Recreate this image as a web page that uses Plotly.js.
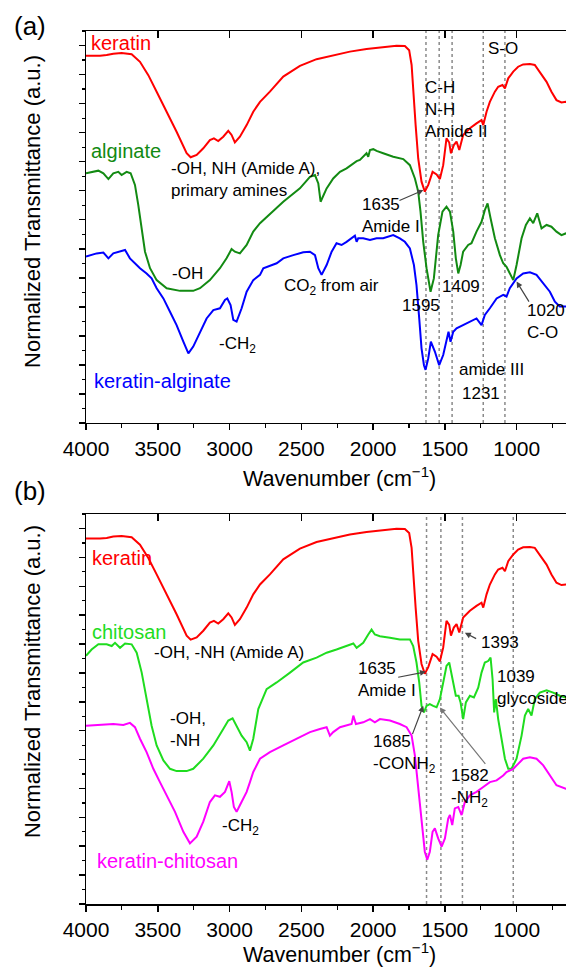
<!DOCTYPE html>
<html>
<head>
<meta charset="utf-8">
<script src="https://cdn.plot.ly/plotly-3.0.1.min.js"></script>
<style>
  html, body { margin: 0; padding: 0; background: #fff; overflow: hidden; }
  #chart { width: 594px; height: 967px; }
</style>
</head>
<body>
<div id="chart"></div>
<script>
// FTIR spectra, wavenumber (cm-1) vs normalized transmittance (a.u., stacked)

// keratin (shown in both panels)
const keratinWn = [4000,3949,3902,3856,3810,3752,3705,3682,3624,3566,3508,3438,3369,3299,3271,3229,3183,3137,3109,3079,3044,3009,2986,2963,2928,2881,2835,2788,2719,2626,2510,2394,2278,2162,2046,1930,1837,1779,1749,1732,1721,1704,1686,1663,1640,1616,1586,1558,1535,1512,1489,1470,1458,1438,1419,1400,1373,1326,1280,1245,1233,1210,1187,1152,1129,1099,1082,1059,1024,990,955,908,874,839,792,758,723,688,658,600,500,400];
const keratinT = [12.65,12.64,12.65,12.67,12.72,12.74,12.72,12.70,12.44,11.98,11.41,10.72,10.03,9.29,9.15,9.23,9.46,9.74,9.80,9.71,9.86,10.06,9.92,9.66,9.86,10.26,10.72,11.06,11.41,11.93,12.30,12.53,12.67,12.79,12.88,12.95,12.99,12.98,12.84,12.33,11.41,10.26,9.11,8.31,7.97,8.20,8.65,8.56,8.40,8.88,9.80,9.66,9.29,9.57,9.69,9.40,9.92,10.15,10.32,10.43,10.26,10.72,11.06,11.41,11.58,11.64,11.52,11.87,12.10,12.27,12.35,12.36,12.33,12.10,11.75,11.41,11.12,11.04,11.06,11.0,10.9,10.8];

// alginate
const alginateWn = [4000,3949,3914,3879,3844,3810,3775,3752,3717,3689,3659,3636,3612,3589,3554,3508,3438,3345,3253,3206,3137,3067,3021,2986,2963,2928,2881,2835,2788,2742,2626,2510,2440,2405,2382,2366,2347,2324,2278,2231,2185,2138,2115,2092,2046,2034,2022,1999,1976,1930,1860,1790,1744,1709,1686,1670,1651,1628,1600,1577,1547,1517,1489,1465,1442,1424,1407,1391,1373,1338,1315,1280,1245,1222,1203,1182,1152,1117,1094,1071,1048,1024,1001,966,936,908,885,857,827,792,758,723,688,658,600,500,400];
const alginateT = [8.60,8.65,8.69,8.60,8.40,8.60,8.65,8.54,8.65,8.60,8.20,7.51,6.59,5.90,5.33,4.92,4.64,4.55,4.55,4.64,4.92,5.33,5.67,5.99,5.90,5.84,6.13,6.59,6.88,7.10,7.62,8.08,8.48,8.54,8.25,7.62,7.85,8.08,8.42,8.65,8.77,8.94,9.02,9.06,9.29,9.17,9.40,9.43,9.37,9.29,9.17,9.09,8.88,8.42,7.97,7.28,6.24,5.33,4.52,4.98,6.47,7.28,7.45,7.28,6.59,5.67,5.15,5.44,5.90,6.13,6.19,6.59,6.93,7.33,7.56,7.05,6.36,5.78,5.50,5.38,5.15,4.92,5.44,6.36,6.82,7.05,6.88,7.22,6.70,6.82,6.76,6.59,6.47,6.53,6.5,6.45,6.4];

// keratin-alginate
const kerAlgWn = [4000,3961,3926,3879,3844,3810,3763,3728,3694,3659,3624,3578,3543,3508,3461,3415,3369,3322,3287,3253,3206,3160,3113,3067,3032,3016,2993,2974,2951,2916,2881,2835,2788,2765,2672,2626,2556,2487,2440,2405,2382,2359,2324,2289,2255,2220,2185,2150,2127,2115,2104,2069,2022,1976,1930,1860,1814,1779,1744,1716,1698,1679,1663,1646,1635,1616,1598,1570,1540,1512,1489,1475,1461,1442,1419,1373,1326,1280,1245,1222,1187,1140,1094,1071,1048,1001,955,908,862,815,769,734,700,658,600,500,400];
const kerAlgT = [5.73,5.78,5.84,5.87,5.67,5.84,5.90,5.96,5.67,5.50,5.33,5.15,4.98,4.64,4.29,3.83,3.37,2.80,2.40,2.63,3.14,3.60,3.89,3.95,4.24,4.29,4.06,3.55,3.49,3.95,4.52,4.92,5.10,5.33,5.50,5.67,5.78,5.88,5.90,5.78,5.33,5.10,5.44,5.90,6.19,6.13,6.24,6.36,6.45,6.24,6.36,6.36,6.30,6.36,6.36,6.47,6.36,6.24,6.01,5.44,4.75,3.60,2.57,1.99,1.83,2.23,2.80,2.46,1.99,2.34,2.91,3.14,2.80,3.14,3.26,3.37,3.49,3.60,3.37,3.72,3.95,4.29,4.41,4.35,4.64,4.98,5.15,5.19,5.10,4.81,4.52,4.18,4.01,4.01,4.0,3.95,3.9];

// chitosan
const chitosanWn = [4000,3961,3914,3856,3821,3798,3763,3728,3682,3647,3612,3578,3543,3508,3461,3415,3369,3299,3253,3183,3113,3044,3009,2979,2951,2916,2881,2858,2835,2800,2742,2672,2579,2487,2394,2324,2255,2185,2138,2115,2069,2034,2011,1988,1953,1883,1814,1744,1721,1698,1679,1663,1646,1628,1605,1582,1558,1535,1512,1489,1470,1447,1424,1405,1391,1373,1354,1326,1298,1268,1245,1222,1199,1182,1168,1157,1145,1129,1106,1082,1059,1036,1001,966,943,920,897,874,839,792,746,700,658,600,500,400];
const chitosanT = [8.59,8.81,8.99,8.99,8.93,9.04,8.87,9.02,8.99,8.70,8.01,7.09,6.17,5.49,4.97,4.68,4.60,4.60,4.68,5.03,5.49,6.06,6.35,6.43,6.17,5.83,5.60,5.31,5.72,6.75,7.44,7.67,8.01,8.36,8.53,8.70,8.81,8.93,9.02,8.87,9.04,9.33,9.50,9.33,9.27,9.22,9.16,9.16,8.93,8.36,7.67,6.86,6.63,6.86,6.92,6.86,6.81,7.09,7.67,8.24,8.36,7.78,7.21,7.21,6.98,6.40,6.98,7.21,7.15,7.49,8.01,8.36,8.41,8.53,7.78,6.63,7.09,6.40,5.72,5.03,4.68,4.68,5.03,5.83,6.52,6.75,6.52,7.09,7.32,7.40,7.32,7.21,7.15,7.1,7.05,7.0];

// keratin-chitosan
const kerChiWn = [4000,3902,3810,3740,3694,3659,3624,3578,3531,3485,3438,3380,3322,3276,3229,3183,3137,3102,3067,3032,3002,2986,2970,2951,2928,2905,2881,2858,2835,2788,2719,2626,2533,2440,2371,2324,2301,2278,2231,2185,2150,2138,2120,2069,2022,1988,1953,1883,1814,1767,1732,1709,1686,1663,1640,1623,1605,1586,1570,1547,1523,1500,1477,1465,1449,1431,1407,1384,1361,1326,1280,1233,1187,1140,1094,1071,1024,990,955,908,862,815,769,723,658,600,500,400];
const kerChiT = [6.17,6.20,6.23,6.20,6.27,6.12,5.72,5.26,4.68,4.22,3.76,3.19,2.50,2.10,2.33,2.85,3.53,3.76,3.71,3.88,4.25,3.88,3.36,3.19,3.42,3.65,3.88,4.22,4.57,5.03,5.26,5.49,5.72,5.95,6.06,6.12,5.83,5.95,6.12,6.17,6.23,6.52,6.23,6.29,6.40,6.29,6.40,6.35,6.23,6.12,5.83,5.14,3.99,2.85,1.81,1.53,1.81,2.50,2.62,2.27,1.99,2.27,2.96,3.08,2.73,3.31,3.36,3.08,3.53,3.76,3.88,4.05,4.22,4.28,4.45,4.57,4.68,4.85,5.03,5.08,5.03,4.80,4.45,4.11,3.99,3.95,3.9,3.85];

// marked band positions (dotted guides)
const bandsA = [1632, 1540, 1450, 1233, 1082];
const bandsB = [1628, 1528, 1378, 1024];

const FONT = 'Liberation Sans, Arial, Helvetica, sans-serif';
const RED = '#ff0000', DKGREEN = '#128a12', BLUE = '#0000ff', LIME = '#1fdc1f', MAGENTA = '#ff00ff';

function spectrum(x, y, color, xa, ya) {
  return { x: x, y: y, xaxis: xa, yaxis: ya, type: 'scatter', mode: 'lines',
           line: { color: color, width: 2 }, hoverinfo: 'skip', showlegend: false };
}

const traces = [
  spectrum(keratinWn, keratinT, RED, 'x', 'y'),
  spectrum(alginateWn, alginateT, DKGREEN, 'x', 'y'),
  spectrum(kerAlgWn, kerAlgT, BLUE, 'x', 'y'),
  spectrum(keratinWn, keratinT, RED, 'x2', 'y2'),
  spectrum(chitosanWn, chitosanT, LIME, 'x2', 'y2'),
  spectrum(kerChiWn, kerChiT, MAGENTA, 'x2', 'y2'),
  // empty carriers for the top tick axes
  { x: [], y: [], xaxis: 'x3', yaxis: 'y', type: 'scatter', showlegend: false, hoverinfo: 'skip' },
  { x: [], y: [], xaxis: 'x4', yaxis: 'y2', type: 'scatter', showlegend: false, hoverinfo: 'skip' }
];

const X_RANGE = [4000, 580];

function bottomX(anchor) {
  return {
    anchor: anchor, range: X_RANGE, autorange: false,
    tick0: 0, dtick: 500, ticks: 'outside', ticklen: 6, tickwidth: 1.5, tickcolor: '#000',
    showline: true, linewidth: 1.5, linecolor: '#000', mirror: true,
    showgrid: false, zeroline: false,
    tickfont: { family: FONT, size: 21, color: '#000' },
    minor: { tick0: 0, dtick: 250, ticks: 'outside', ticklen: 4, tickwidth: 1.2, tickcolor: '#000', showgrid: false }
  };
}
function topX(over, anchor) {
  return {
    overlaying: over, anchor: anchor, side: 'top', range: X_RANGE, autorange: false,
    tick0: 0, dtick: 500, ticks: 'inside', ticklen: 7, tickwidth: 1.5, tickcolor: '#000',
    showticklabels: false, showline: false, showgrid: false, zeroline: false
  };
}
function leftY(domain, anchor) {
  return {
    domain: domain, anchor: anchor, range: [0, 13.5], autorange: false,
    tick0: 0, dtick: 1, ticks: 'outside', ticklen: 6, tickwidth: 1.5, tickcolor: '#000',
    showticklabels: false, showline: true, linewidth: 1.5, linecolor: '#000', mirror: true,
    showgrid: false, zeroline: false,
    minor: { tick0: 0, dtick: 0.5, ticks: 'outside', ticklen: 3, tickwidth: 1.2, tickcolor: '#000', showgrid: false }
  };
}

const shapes = [];
bandsA.forEach(w => shapes.push({ type: 'line', xref: 'x', yref: 'y domain', x0: w, x1: w, y0: 0, y1: 1,
  line: { color: '#8a8a8a', width: 1.5, dash: 'dot' }, layer: 'below' }));
bandsB.forEach(w => shapes.push({ type: 'line', xref: 'x2', yref: 'y2 domain', x0: w, x1: w, y0: 0, y1: 1,
  line: { color: '#8a8a8a', width: 1.5, dash: 'dot' }, layer: 'below' }));

function label(xa, ya, x, y, text, opts) {
  opts = opts || {};
  return Object.assign({
    xref: xa, yref: ya, x: x, y: y, text: text, showarrow: false,
    xanchor: 'left', yanchor: 'middle', align: 'left',
    font: { family: FONT, size: 17, color: '#000' }
  }, opts);
}
function arrow(xa, ya, x, y, ax, ay, color) {
  return { xref: xa, yref: ya, axref: xa, ayref: ya, x: x, y: y, ax: ax, ay: ay, text: '',
           showarrow: true, arrowhead: 2, arrowsize: 1, arrowwidth: 1.2, arrowcolor: color || '#444', standoff: 0 };
}
const seriesFont = (c) => ({ family: FONT, size: 20, color: c });

const annotations = [
  // panel letters
  { xref: 'paper', yref: 'paper', x: -0.1141, y: 1.0057, text: '(a)', showarrow: false,
    xanchor: 'center', yanchor: 'middle', font: { family: FONT, size: 26, color: '#000' } },
  { xref: 'paper', yref: 'paper', x: -0.1141, y: 0.4731, text: '(b)', showarrow: false,
    xanchor: 'center', yanchor: 'middle', font: { family: FONT, size: 26, color: '#000' } },
  // axis titles
  { xref: 'paper', yref: 'paper', x: 0.5153, y: 0.4891, text: 'Wavenumber (cm<sup>−1</sup>)', showarrow: false,
    xanchor: 'center', yanchor: 'middle', font: { family: FONT, size: 21.5, color: '#000' } },
  { xref: 'paper', yref: 'paper', x: 0.5153, y: -0.0561, text: 'Wavenumber (cm<sup>−1</sup>)', showarrow: false,
    xanchor: 'center', yanchor: 'middle', font: { family: FONT, size: 21.5, color: '#000' } },
  { xref: 'paper', yref: 'paper', x: -0.1079, y: 0.7927, text: 'Normalized Transmittance (a.u.)', showarrow: false,
    textangle: -90, xanchor: 'center', yanchor: 'middle', font: { family: FONT, size: 22, color: '#000' } },
  { xref: 'paper', yref: 'paper', x: -0.1079, y: 0.2543, text: 'Normalized Transmittance (a.u.)', showarrow: false,
    textangle: -90, xanchor: 'center', yanchor: 'middle', font: { family: FONT, size: 22, color: '#000' } },

  // panel (a) series names
  label('x', 'y', 3979, 13.09, 'keratin', { font: seriesFont(RED) }),
  label('x', 'y', 3979, 9.38, 'alginate', { font: seriesFont(DKGREEN) }),
  label('x', 'y', 3958, 1.45, 'keratin-alginate', { font: seriesFont(BLUE) }),
  // panel (a) band notes
  label('x', 'y', 3420, 8.40, '-OH, NH (Amide A),<br>primary amines'),
  label('x', 'y', 3293, 5.15, '-OH', { xanchor: 'center' }),
  label('x', 'y', 3088, 2.69, '-CH<sub>2</sub>'),
  label('x', 'y', 2635, 4.69, 'CO<sub>2</sub> from air'),
  label('x', 'y', 2092, 7.13, '1635<br>Amide I'),
  arrow('x', 'y', 1650, 8.02, 1827, 7.64),
  label('x', 'y', 1651, 10.78, 'C-H<br>N-H<br>Amide II'),
  label('x', 'y', 1096, 12.90, 'S-O', { xanchor: 'center' }),
  label('x', 'y', 1664, 4.06, '1595', { xanchor: 'center' }),
  label('x', 'y', 1389, 4.69, '1409', { xanchor: 'center' }),
  label('x', 'y', 943, 3.49, '1020<br>C-O'),
  arrow('x', 'y', 1001, 4.87, 908, 4.13),
  label('x', 'y', 1175, 1.83, 'amide III', { xanchor: 'center' }),
  label('x', 'y', 1246, 1.03, '1231', { xanchor: 'center' }),

  // panel (b) series names
  label('x2', 'y2', 3972, 11.97, 'keratin', { font: seriesFont(RED) }),
  label('x2', 'y2', 3972, 9.41, 'chitosan', { font: seriesFont(LIME) }),
  label('x2', 'y2', 3937, 1.49, 'keratin-chitosan', { font: seriesFont(MAGENTA) }),
  // panel (b) band notes
  label('x2', 'y2', 3542, 8.70, '-OH, -NH (Amide A)'),
  label('x2', 'y2', 3429, 6.04, '-OH,<br>-NH'),
  label('x2', 'y2', 3067, 2.67, '-CH<sub>2</sub>'),
  label('x2', 'y2', 1265, 9.07, '1393'),
  arrow('x2', 'y2', 1361, 9.39, 1272, 9.16),
  label('x2', 'y2', 2120, 7.78, '1635<br>Amide I'),
  arrow('x2', 'y2', 1632, 8.04, 1836, 7.84),
  label('x2', 'y2', 1148, 7.48, '1039<br>glycoside'),
  label('x2', 'y2', 2015, 5.18, '1685<br>-CONH<sub>2</sub>'),
  arrow('x2', 'y2', 1651, 6.86, 1730, 5.83),
  label('x2', 'y2', 1472, 4.00, '1582<br>-NH<sub>2</sub>'),
  arrow('x2', 'y2', 1535, 6.80, 1210, 4.80, '#777')
];

const layout = {
  width: 594, height: 967,
  margin: { l: 86, r: 17, t: 31, b: 63 },
  paper_bgcolor: '#fff', plot_bgcolor: '#fff',
  font: { family: FONT, color: '#000' },
  showlegend: false,
  xaxis: bottomX('y'),
  xaxis2: bottomX('y2'),
  xaxis3: topX('x', 'y'),
  xaxis4: topX('x2', 'y2'),
  yaxis: leftY([0.551, 1], 'x'),
  yaxis2: leftY([0, 0.4467], 'x2'),
  shapes: shapes,
  annotations: annotations
};

Plotly.newPlot('chart', traces, layout, { staticPlot: true, displayModeBar: false });
</script>
</body>
</html>
